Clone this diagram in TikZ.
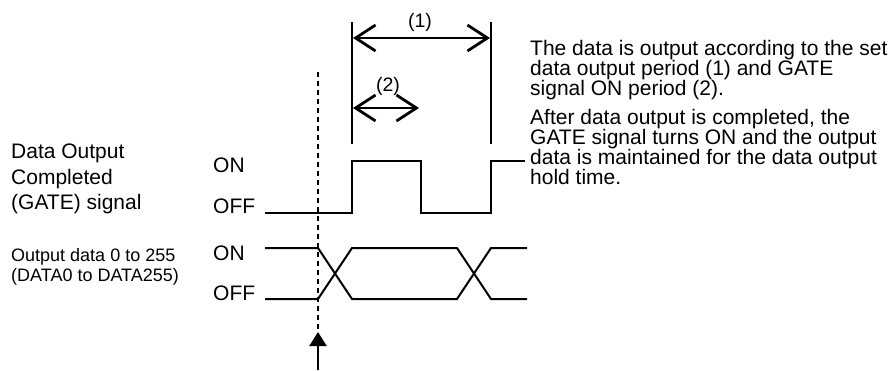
\documentclass[tikz,border=0pt]{standalone}
\usepackage{fontspec}
\setmainfont{Liberation Sans}
\usetikzlibrary{arrows.meta}

\begin{document}
\begin{tikzpicture}[x=1pt, y=-1pt,
  sig/.style={line width=2pt},
  dimline/.style={line width=2.8pt, {Straight Barb[length=20pt,width=26pt]}-{Straight Barb[length=20pt,width=26pt]}},
  txt/.style={inner sep=0pt, align=left, font=\fontsize{21}{20}\selectfont},
  level/.style={inner sep=0pt, anchor=west, font=\fontsize{21}{21}\selectfont}]
  \useasboundingbox (0,0) rectangle (892,370);

  % timing points
  \coordinate (trig) at (318,72);
  \coordinate (trigtip) at (318,332);
  \coordinate (trigfoot) at (318,370);
  \coordinate (s1) at (352,22);  \coordinate (e1) at (352,144);
  \coordinate (s2) at (491,22);  \coordinate (e2) at (491,144);

  % left labels
  \node[txt, anchor=north west, font=\fontsize{21}{25.5}\selectfont] (gatelab) at (11,144)
    {Data Output\\Completed\\(GATE) signal};
  \node[txt, anchor=north west, font=\fontsize{18}{20}\selectfont] (datalab) at (11,248)
    {Output data 0 to 255\\(DATA0 to DATA255)};
  \foreach \y/\lab/\nm in {165/ON/gon, 206/OFF/goff, 253/ON/don, 293/OFF/doff}
    \node[level] (\nm) at (213,\y) {\lab};

  % GATE signal
  \draw[sig] (265,213) -- (352,213) -- (352,161) -- (421,161) -- (421,213)
    -- (491,213) -- (491,161) -- (525,161);
  % data lines
  \draw[sig] (265,248) -- (318,248) -- (352,299) -- (457,299) -- (491,248) -- (527,248);
  \draw[sig] (265,299) -- (318,299) -- (352,248) -- (457,248) -- (491,299) -- (527,299);

  % periods
  \draw[sig] (s1) -- (e1);
  \draw[sig] (s2) -- (e2);
  \draw[dimline] (353,38) -- (490,38);
  \draw[dimline] (353,108) -- (419,108);
  \node[txt, font=\fontsize{19.5}{19.5}\selectfont] (p1) at (420,22) {(1)};
  \node[txt, font=\fontsize{19.5}{19.5}\selectfont] (p2) at (388,86) {(2)};

  % trigger
  \draw[sig, dash pattern=on 5pt off 4pt] (trig) -- (trigtip);
  \draw[sig, -{Triangle[length=14pt,width=17pt]}] (trigfoot) -- (trigtip);

  % notes
  \node[txt, anchor=north west] (note1) at (530,40)
    {The data is output according to the set\\data output period (1) and GATE\\signal ON period (2).};
  \node[txt, anchor=north west] (note2) at (530,109)
    {After data output is completed, the\\GATE signal turns ON and the output\\data is maintained for the data output\\hold time.};
\end{tikzpicture}
\end{document}
